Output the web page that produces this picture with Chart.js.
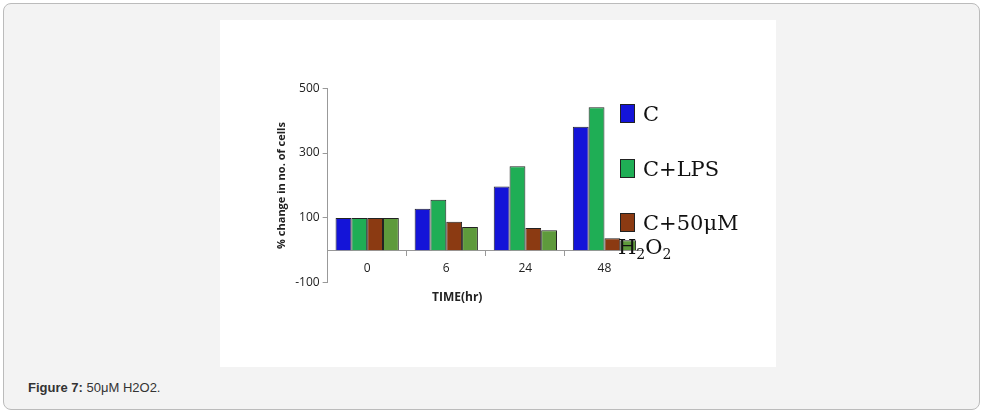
<!DOCTYPE html>
<html><head><meta charset="utf-8">
<script src="https://cdn.jsdelivr.net/npm/chart.js@4/dist/chart.umd.min.js"></script>
<style>
body{margin:0;background:#fff;font-family:Arial,"Liberation Sans",sans-serif;}
#frame{position:absolute;left:3px;top:3px;width:975px;height:405px;border:1px solid #bbb;border-radius:8px;background:#f3f3f3;}
#img{position:absolute;left:216px;top:16px;width:556px;height:347px;background:#fff;}
#wrap{position:absolute;left:51px;top:58px;width:373px;height:215px;}
#legend{position:absolute;left:400px;top:82px;font-family:"DejaVu Serif","Liberation Serif",serif;font-size:21px;color:#111;}
.it{position:absolute;white-space:nowrap;}
.sw{display:inline-block;width:13px;height:17px;border:1px solid #222;margin-right:8px;vertical-align:-2px;}
#xt{position:absolute;left:212px;top:268px;font-family:"Open Sans",sans-serif;font-size:12px;font-weight:bold;color:#222;}
#cap{position:absolute;left:24px;top:376px;font-size:13px;color:#333;}
</style></head><body>
<div id="frame">
<div id="img">
<div id="wrap"><canvas id="chart"></canvas></div>
<div id="xt">TIME(hr)</div>
<div id="legend">
<div class="it" style="top:0">
<span class="sw" style="background:#1414d8"></span>C</div>
<div class="it" style="top:55px"><span class="sw" style="background:#1fae55"></span>C+LPS</div>
<div class="it" style="top:109px"><span class="sw" style="background:#8b3a12"></span>C+50μM</div>
<div class="it" style="top:133px;left:-2px">H<sub style="font-size:14px">2</sub>O<sub style="font-size:14px">2</sub></div>
</div>
</div>
<div id="cap"><b>Figure 7:</b> 50μM H2O2.</div>
</div>
<script>
const times = ['0', '6', '24', '48'];
const cValues = [100, 128, 197, 381];
const lpsValues = [100, 156, 259, 441];
const h2o2Values = [100, 88, 69, 37];
const fourthValues = [100, 72, 62, 31];
const yTicks = [-100, 100, 300, 500];

const ctx = document.getElementById('chart').getContext('2d');
new Chart(ctx, {
    type: 'bar',
    data: {
        labels: times,
        datasets: [
            {label: 'C', data: cValues, backgroundColor: '#1414d8'},
            {label: 'C+LPS', data: lpsValues, backgroundColor: '#1fae55'},
            {label: 'C+50μM H2O2', data: h2o2Values, backgroundColor: '#8b3a12'},
            {label: '', data: fourthValues, backgroundColor: '#5e9a3c'}
        ].map(d => Object.assign(d, {borderColor: '#222', borderWidth: 1, barPercentage: 1, categoryPercentage: 0.8}))
    },
    options: {
        responsive: true,
        maintainAspectRatio: false,
        animation: false,
        layout: {padding: {left: 0, right: 0, top: 8, bottom: 0}},
        plugins: {legend: {display: false}, tooltip: {enabled: false}},
        scales: {
            x: {
                position: {y: 0},
                grid: {display: true, drawOnChartArea: false, offset: true, color: '#999', tickLength: 5},
                border: {color: '#999'},
                ticks: {color: '#222', font: {size: 12, family: 'Open Sans'}, padding: 6},
                // real title is the #xt div, this one only keeps the layout space
                title: {display: true, text: 'TIME(hr)', color: 'rgba(0,0,0,0)', font: {size: 12, weight: 'bold', family: 'Open Sans'}, padding: {top: 12}}
            },
            y: {
                min: -100, max: 500,
                afterBuildTicks: ax => { ax.ticks = yTicks.map(v => ({value: v})); },
                grid: {drawOnChartArea: false, color: '#999', tickLength: 5},
                border: {color: '#999'},
                ticks: {color: '#222', font: {size: 12, family: 'Open Sans'}},
                title: {display: true, text: '% change in no. of cells', color: '#222', font: {size: 11, weight: 'bold', family: 'Open Sans'}}
            }
        }
    }
});
</script>
</body></html>
